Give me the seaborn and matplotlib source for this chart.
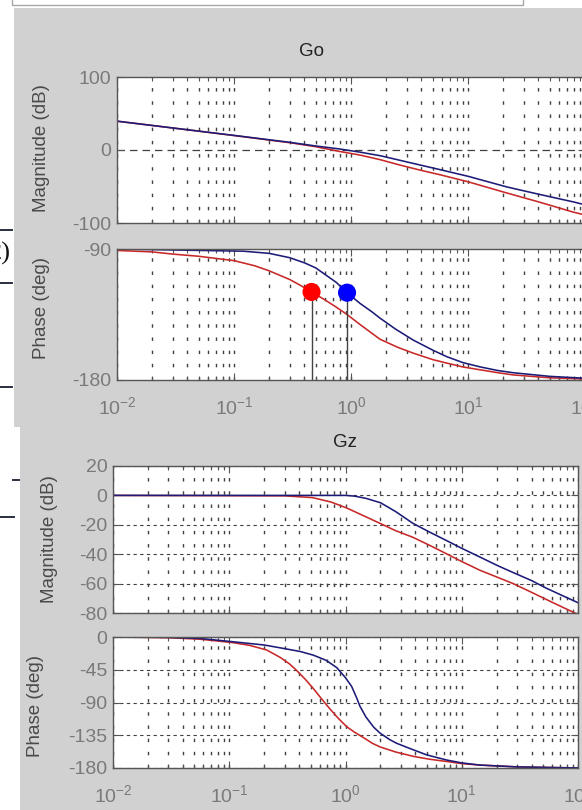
import numpy as np
import pandas as pd
import matplotlib
matplotlib.use('Agg')
import matplotlib.pyplot as plt
import seaborn as sns
from matplotlib.patches import Rectangle
from matplotlib.lines import Line2D
from matplotlib.ticker import LogLocator, NullFormatter

# ---------------- data ----------------
xtick_vals = [0.01, 0.1, 1, 10, 100]
xtick_labels = [r'$10^{-2}$', r'$10^{-1}$', r'$10^{0}$', r'$10^{1}$', r'$10^{2}$']

# Go magnitude (dB)
go_mag_freq = [0.01, 0.1, 0.3, 0.5, 0.8, 1.2, 1.8, 2.6, 4, 5.8, 10, 21.6, 40, 79, 100]
go_mag_blue = [39.5, 20, 10.5, 5.5, 1.4, -3, -8, -14, -21, -27, -36, -50.7, -60.5, -71, -75]
go_mag_red = [39.5, 19.8, 10, 4.5, -2, -7, -13.5, -20.5, -28, -34, -43.5, -59, -71, -85, -89]

# Go phase (deg)
go_ph_blue_freq = [0.01, 0.12, 0.2, 0.3, 0.4, 0.5, 0.6, 0.75, 0.925, 1.2, 1.5, 1.77, 2.4, 3.39,
                   5, 6.6, 9, 12.7, 18, 24.3, 50, 100]
go_ph_blue = [-90, -91.5, -93, -96, -99.5, -103, -107.5, -113, -120, -127.5, -133, -137.5, -145,
              -152.5, -159.5, -164, -168, -171, -173.5, -175, -177.5, -178.8]
go_ph_red_freq = [0.01, 0.02, 0.03, 0.05, 0.1, 0.15, 0.2, 0.3, 0.37, 0.46, 0.6, 0.75, 0.925, 1.2,
                  1.77, 2.5, 3.39, 5, 6.6, 9, 12.7, 18, 24.3, 50, 100]
go_ph_red = [-91, -92, -93.5, -95, -98, -101.5, -105, -111, -115, -119.5, -125, -130, -135, -142,
             -152, -157.5, -161.5, -166, -168.4, -171, -173, -175, -176.5, -178.5, -179.3]

# phase-margin markers
pm_name = ['red', 'blue']
pm_freq = [0.46, 0.925]
pm_phase = [-119.5, -120]

# Gz magnitude (dB)
gz_mag_blue_freq = [0.01, 1.0, 1.2, 1.5, 2.0, 2.7, 3.8, 5.3, 7.3, 10, 14.4, 20, 27.7, 40, 53, 75, 100]
gz_mag_blue = [0, 0, -0.5, -2, -5, -11, -19, -25, -30.5, -36, -42, -47.5, -52.5, -58, -63, -68.5, -73]
gz_mag_red_freq = [0.01, 0.3, 0.52, 0.75, 1.02, 1.4, 1.98, 2.7, 3.8, 5.3, 7.3, 10, 14.4, 20, 27.7,
                   40, 61, 100]
gz_mag_red = [0, -0.3, -1.5, -4.5, -8.5, -13.5, -19, -24, -28.5, -34, -39.5, -45, -51, -55.5, -60,
              -66, -73, -81]

# Gz phase (deg)
gz_ph_blue_freq = [0.01, 0.03, 0.056, 0.1, 0.2, 0.3, 0.41, 0.53, 0.68, 0.84, 1.0, 1.13, 1.25, 1.33,
                   1.5, 1.75, 1.98, 2.4, 2.75, 3.3, 3.83, 5, 7.4, 10, 14.4, 30, 100]
gz_ph_blue = [0, -0.5, -2, -6, -11, -16, -20, -25, -32, -42, -56, -68, -84, -95, -110, -124, -132,
              -141, -146, -151, -155, -162, -169, -173, -176, -178.5, -180]
gz_ph_red_freq = [0.01, 0.03, 0.056, 0.108, 0.15, 0.21, 0.274, 0.33, 0.38, 0.45, 0.53, 0.63, 0.736,
                  0.87, 1.02, 1.2, 1.42, 1.7, 1.98, 2.7, 3.83, 5.3, 7.4, 10, 14.4, 30, 100]
gz_ph_red = [0, -1, -3, -7.8, -11.5, -17.9, -28, -37, -46, -58, -71, -86, -99, -112, -123, -131,
             -138, -146, -151, -158, -164, -168, -171, -174, -176, -178.5, -180]

go_mag_ticks = [100, 0, -100]
go_ph_ticks = [-90, -180]
gz_mag_ticks = [20, 0, -20, -40, -60, -80]
gz_ph_ticks = [0, -45, -90, -135, -180]

# ---------------- style ----------------
plt.rcParams['font.family'] = ['Liberation Sans', 'DejaVu Sans']
plt.rcParams['mathtext.fontset'] = 'custom'
plt.rcParams['mathtext.rm'] = 'Liberation Sans'
plt.rcParams['mathtext.it'] = 'Liberation Sans:italic'
plt.rcParams['mathtext.bf'] = 'Liberation Sans:bold'
plt.rcParams['axes.unicode_minus'] = False

BLUE = '#1c1c78'
RED = '#c82828'
GRAY = '#d1d1d1'
SPINE = '#555555'
TICKC = '#7a7a7a'
LABC = '#4a4a4a'
GRIDC = '#404040'

W, H = 582, 810
fig = plt.figure(figsize=(W / 100, H / 100), dpi=100, facecolor='white')


def px_rect(left, top, right, bottom):
    return [left / W, 1 - bottom / H, (right - left) / W, (bottom - top) / H]


def fx(x):
    return x / W


def fy(y):
    return 1 - y / H


# window backgrounds
fig.add_artist(Rectangle((fx(14), fy(427)), (582 - 14) / W, (427 - 8) / H,
                         transform=fig.transFigure, facecolor=GRAY, edgecolor='none', zorder=-10))
fig.add_artist(Rectangle((fx(20), 0), (582 - 20) / W, (810 - 427) / H + 0.001,
                         transform=fig.transFigure, facecolor=GRAY, edgecolor='none', zorder=-10))

# remnants of the document behind
fig.add_artist(Line2D([fx(12), fx(12), fx(523), fx(523)], [fy(0), fy(5), fy(5), fy(0)],
                      transform=fig.transFigure, color='#a8a8a8', lw=1.0))
for (x0, x1, y) in [(0, 12, 230), (0, 12, 283), (0, 12, 387), (13, 19, 480), (0, 14, 517)]:
    fig.add_artist(Line2D([fx(x0), fx(x1)], [fy(y), fy(y)], transform=fig.transFigure,
                          color='#2a2f40', lw=1.4))
fig.text(fx(11), fy(253), '2)', ha='right', va='center', fontsize=19,
         family=['Liberation Serif', 'DejaVu Serif'], color='#111111')

ax_gm = fig.add_axes(px_rect(117, 77, 585, 223))
ax_gp = fig.add_axes(px_rect(117, 249, 585, 380))
ax_zm = fig.add_axes(px_rect(113, 466, 578, 613))
ax_zp = fig.add_axes(px_rect(113, 637, 578, 768))


def curve(ax, f, v, color):
    df = pd.DataFrame({'freq': f, 'val': v})
    sns.lineplot(data=df, x='freq', y='val', ax=ax, color=color, linewidth=1.15,
                 estimator=None, sort=False)


def style(ax, ylim, yticks, show_x, hgrid):
    ax.set_xscale('log')
    ax.set_xlim(0.01, 100)
    ax.set_ylim(*ylim)
    ax.set_facecolor('white')
    for s in ax.spines.values():
        s.set_color(SPINE)
        s.set_linewidth(1.0)
    ax.set_yticks(yticks)
    ax.set_yticklabels([str(v) for v in yticks])
    ax.set_xticks(xtick_vals)
    ax.xaxis.set_minor_locator(LogLocator(base=10, subs=np.arange(2, 10)))
    ax.xaxis.set_minor_formatter(NullFormatter())
    if show_x:
        ax.set_xticklabels(xtick_labels)
    else:
        ax.set_xticklabels([])
    ax.tick_params(which='both', direction='in', top=True, right=True,
                   color=SPINE, labelcolor=TICKC, labelsize=14)
    ax.tick_params(which='major', length=5, width=0.8)
    ax.tick_params(which='minor', length=3, width=0.8)
    ax.tick_params(axis='x', pad=12)
    ax.tick_params(axis='y', pad=4)
    ax.grid(True, which='both', axis='x', linestyle=(0, (2.5, 7)), color=GRIDC, linewidth=1.0)
    if hgrid:
        ax.grid(True, which='major', axis='y', linestyle=(0, (3, 3)), color=GRIDC, linewidth=0.8)
    ax.set_xlabel('')
    ax.set_ylabel('')


# Go magnitude
curve(ax_gm, go_mag_freq, go_mag_red, RED)
curve(ax_gm, go_mag_freq, go_mag_blue, BLUE)
ax_gm.axhline(0, color=GRIDC, linestyle=(0, (6, 4)), linewidth=0.9, zorder=1.5)
style(ax_gm, (-100, 100), go_mag_ticks, False, False)

# Go phase
curve(ax_gp, go_ph_red_freq, go_ph_red, RED)
curve(ax_gp, go_ph_blue_freq, go_ph_blue, BLUE)
ax_gp.vlines(pm_freq, -180, pm_phase, color='#444444', linewidth=1.0, zorder=4)
pm_df = pd.DataFrame({'freq': pm_freq, 'phase': pm_phase, 'name': pm_name})
sns.scatterplot(data=pm_df, x='freq', y='phase', hue='name', palette=['#ff0000', '#0000ff'],
                s=170, edgecolor='none', legend=False, ax=ax_gp, zorder=5)
style(ax_gp, (-180, -90), go_ph_ticks, True, False)

# Gz magnitude
curve(ax_zm, gz_mag_red_freq, gz_mag_red, RED)
curve(ax_zm, gz_mag_blue_freq, gz_mag_blue, BLUE)
style(ax_zm, (-80, 20), gz_mag_ticks, False, True)

# Gz phase
curve(ax_zp, gz_ph_red_freq, gz_ph_red, RED)
curve(ax_zp, gz_ph_blue_freq, gz_ph_blue, BLUE)
style(ax_zp, (-180, 0), gz_ph_ticks, True, True)

# titles and axis labels
fig.text(fx(312), fy(51), 'Go', ha='center', va='center', fontsize=13.5, color='#222222')
fig.text(fx(345), fy(442), 'Gz', ha='center', va='center', fontsize=13.5, color='#222222')
fig.text(fx(41), fy(148), 'Magnitude (dB)', rotation=90, ha='center', va='center', fontsize=13.5, color=LABC)
fig.text(fx(41), fy(308), 'Phase (deg)', rotation=90, ha='center', va='center', fontsize=13.5, color=LABC)
fig.text(fx(50), fy(539), 'Magnitude (dB)', rotation=90, ha='center', va='center', fontsize=13.5, color=LABC)
fig.text(fx(36), fy(706), 'Phase (deg)', rotation=90, ha='center', va='center', fontsize=13.5, color=LABC)

fig.savefig('out.png', dpi=100)
